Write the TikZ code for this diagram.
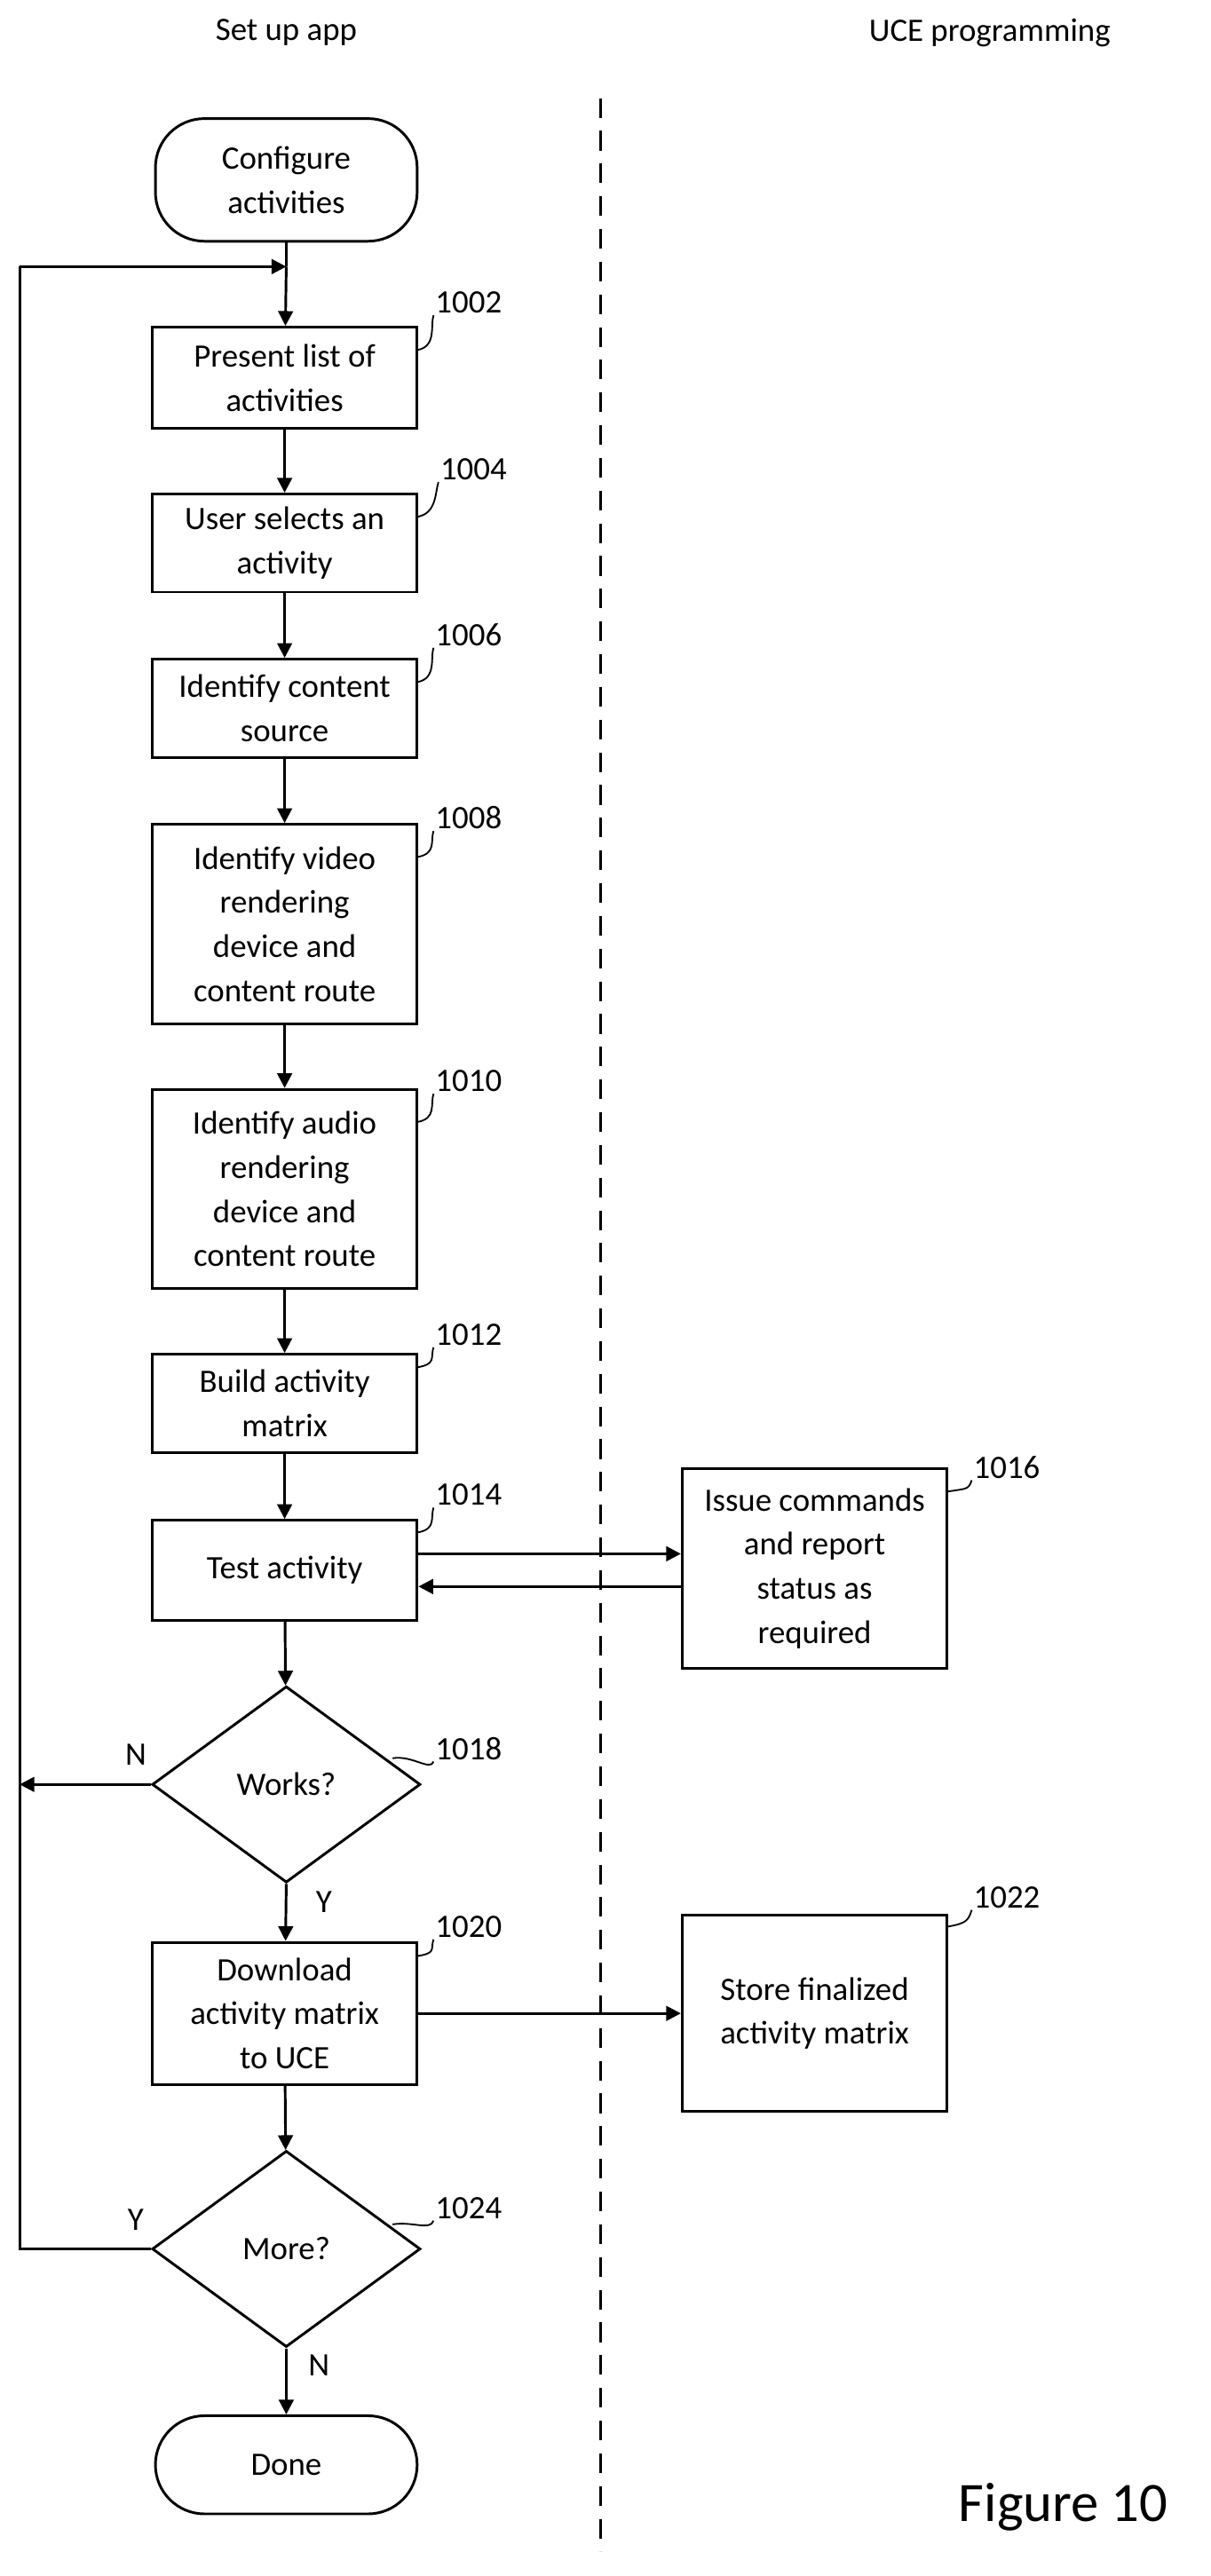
\documentclass[tikz,border=0pt]{standalone}
\usepackage{fontspec}
\setmainfont{Carlito}
\usetikzlibrary{shapes.geometric,arrows.meta}
\begin{document}
\begin{tikzpicture}[x=1pt,y=-1pt,
  every node/.style={font=\fontsize{20}{27}\selectfont},
  box/.style={draw,line width=1.6pt,align=center,inner sep=0pt},
  term/.style={draw,line width=1.6pt,rounded corners=30pt,align=center,minimum width=160pt},
  dia/.style={draw,line width=1.6pt,diamond,aspect=1.37,minimum width=164pt,minimum height=120pt,inner sep=0pt},
  arr/.style={line width=1.6pt,-{Triangle[length=9pt,width=9pt]}},
  ln/.style={line width=1.6pt},
  lab/.style={anchor=west,inner sep=1pt},
  lead/.style={line width=1pt}]
\useasboundingbox (0,0) rectangle (740,1575);
\node (h1) at (175,20) {Set up app};
\node (h2) at (605,20) {UCE programming};
\draw[ln,dash pattern=on 12pt off 8pt] (367,60) -- (367,1560);
\node[term,minimum height=75pt] (s) at (175,110) {Configure\\activities};
\node[box,minimum width=162pt,minimum height=62pt] (b2) at (174,231) {Present list of\\activities};
\node[box,minimum width=162pt,minimum height=60pt] (b4) at (174,332) {User selects an\\activity};
\node[box,minimum width=162pt,minimum height=60pt] (b6) at (174,433) {Identify content\\source};
\node[box,minimum width=162pt,minimum height=122pt] (b8) at (174,565) {Identify video\\rendering\\device and\\content route};
\node[box,minimum width=162pt,minimum height=122pt] (b10) at (174,727) {Identify audio\\rendering\\device and\\content route};
\node[box,minimum width=162pt,minimum height=60pt] (b12) at (174,858) {Build activity\\matrix};
\node[box,minimum width=162pt,minimum height=61pt] (b14) at (174,960) {Test activity};
\node[box,minimum width=162pt,minimum height=122pt] (b16) at (498,959) {Issue commands\\and report\\status as\\required};
\node[dia] (d18) at (175,1091) {Works?};
\node[box,minimum width=162pt,minimum height=87pt] (b20) at (174,1231) {Download\\activity matrix\\to UCE};
\node[box,minimum width=162pt,minimum height=120pt] (b22) at (498,1231) {Store finalized\\activity matrix};
\node[dia] (d24) at (175,1375) {More?};
\node[term,minimum height=60pt] (done) at (175,1507) {Done};
\node (fig) at (650,1533) {\fontsize{34}{40}\selectfont Figure 10};
% labels
\foreach \n/\x/\y/\bx/\by in {1002/265/185/255/214, 1004/268/287/255/316, 1006/265/388/255/417, 1008/265/500/255/524, 1010/265/661/255/686, 1012/265/816/255/836, 1014/265/914/255/937, 1016/594/897/579/912, 1018/265/1069/240/1075, 1020/265/1178/255/1196, 1022/594/1160/579/1178, 1024/265/1350/240/1360}{
  \node[lab] (l\n) at (\x,\y) {\n};
  \draw[lead] (\bx,\by) .. controls (\bx+12,\by-2) and (\x-2,\y+14) .. (l\n.south west);
}
\coordinate (top) at (175,163);
\coordinate (lt) at (12,163);
\coordinate (lw) at (12,1091);
\coordinate (lm) at (12,1375);
\draw[ln] (s) -- (top);
\draw[arr] (top) -- (b2);
\draw[arr] (b2) -- (b4);
\draw[arr] (b4) -- (b6);
\draw[arr] (b6) -- (b8);
\draw[arr] (b8) -- (b10);
\draw[arr] (b10) -- (b12);
\draw[arr] (b12) -- (b14);
\draw[arr] (b14.east|-0,950) -- (b16.west|-0,950);
\draw[arr] (b16.west|-0,970) -- (b14.east|-0,970);
\draw[arr] (b14) -- (d18);
\draw[arr] (d18.west) -- (lw);
\node (n1) at (83,1073) {N};
\draw[arr] (d18.south) -- (b20);
\node (y1) at (198,1163) {Y};
\draw[arr] (b20) -- (b22);
\draw[arr] (b20) -- (d24);
\draw[ln] (d24.west) -- (lm) -- (lt);
\draw[arr] (lt) -- (top);
\node (y2) at (83,1357) {Y};
\draw[arr] (d24.south) -- (done);
\node (n2) at (195,1446) {N};
\end{tikzpicture}
\end{document}
